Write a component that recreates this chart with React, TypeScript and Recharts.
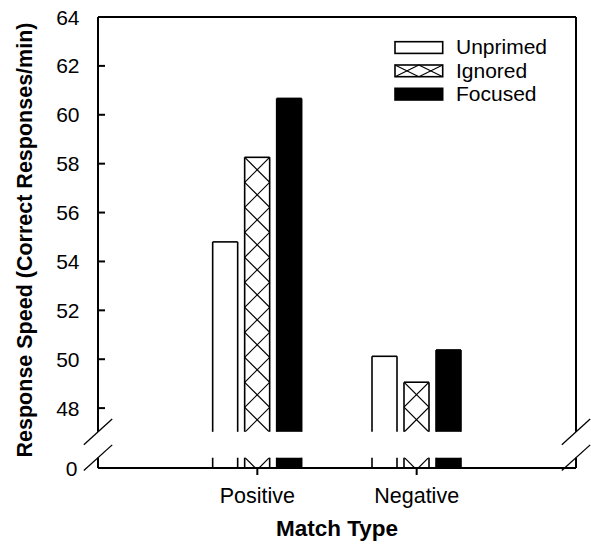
import { Bar, BarChart, Label, Legend, ReferenceLine, XAxis, YAxis } from "recharts";

const categories = ["Positive", "Negative"];
const categoryPositions = [1, 2];
const unprimed = [54.8, 50.12];
const ignored = [58.26, 49.06];
const focused = [60.67, 50.38];
const seriesKeys = ["unprimed", "ignored", "focused"];
const seriesNames = ["Unprimed", "Ignored", "Focused"];
const yTickValues = [48, 50, 52, 54, 56, 58, 60, 62, 64];

// broken axis: the floor of the plot stands for 0, the gap sits between BREAK_LO and BREAK_HI
const Y_FLOOR = 45.55;
const BREAK_LO = 45.97;
const BREAK_HI = 47.03;
const Y_TOP = 64;
const X_MAX = 3;

const FONT = '"Liberation Sans", Arial, Helvetica, sans-serif';
const INK = "#000";

const data = categories.map((name, i) => ({
  pos: categoryPositions[i],
  name,
  unprimed: unprimed[i],
  ignored: ignored[i],
  focused: focused[i],
}));

type Kind = "open" | "hatch" | "solid";
const kinds: Kind[] = ["open", "hatch", "solid"];

function hatchLines(x: number, top: number, w: number, h: number, cell: number) {
  const out = [];
  for (let k = 0; top + k * cell < top + h; k++) {
    const y0 = top + k * cell;
    out.push(<line key={`a${k}`} x1={x} y1={y0} x2={x + w} y2={y0 + cell} />);
    out.push(<line key={`b${k}`} x1={x + w} y1={y0} x2={x} y2={y0 + cell} />);
  }
  return out;
}

function brokenBar(key: string, kind: Kind) {
  return (props: any) => {
    const { x, y, width, height, payload } = props;
    const value = payload[key];
    const bottom = y + height;
    const ppu = height / (value - Y_FLOOR);
    const gapTop = bottom - (BREAK_HI - Y_FLOOR) * ppu;
    const gapBottom = bottom - (BREAK_LO - Y_FLOOR) * ppu;
    const pieces = [
      [y, gapTop],
      [gapBottom, bottom],
    ];
    return (
      <g>
        {pieces.map(([t, b], pi) => {
          const id = `clip-${key}-${Math.round(x)}-${pi}`;
          return (
            <g key={pi}>
              <rect x={x} y={t} width={width} height={b - t} fill={kind === "solid" ? INK : "#fff"} />
              {kind === "hatch" && (
                <>
                  <clipPath id={id}>
                    <rect x={x} y={t} width={width} height={b - t} />
                  </clipPath>
                  <g clipPath={`url(#${id})`} stroke={INK} strokeWidth={1.2}>
                    {hatchLines(x, y, width, bottom - y, width)}
                  </g>
                </>
              )}
              <line x1={x} x2={x} y1={t} y2={b} stroke={INK} strokeWidth={1.6} />
              <line x1={x + width} x2={x + width} y1={t} y2={b} stroke={INK} strokeWidth={1.6} />
              {pi === 0 && <line x1={x} x2={x + width} y1={t} y2={t} stroke={INK} strokeWidth={1.6} />}
            </g>
          );
        })}
      </g>
    );
  };
}

function YTick(props: any) {
  const { x, y, payload } = props;
  const isFloor = payload.value === Y_FLOOR;
  return (
    <g>
      {!isFloor && <line x1={x} x2={x + 7} y1={y} y2={y} stroke={INK} strokeWidth={2} />}
      <text x={x - (isFloor ? 20.5 : 18.5)} y={y + 7.5} textAnchor="end" fontSize={21} fontFamily={FONT} fill={INK}>
        {isFloor ? "0" : payload.value}
      </text>
    </g>
  );
}

function XTick(props: any) {
  const { x, y, payload } = props;
  const name = categories[categoryPositions.indexOf(payload.value)];
  return (
    <g>
      <line x1={x} x2={x} y1={y} y2={y + 7} stroke={INK} strokeWidth={2} />
      <text x={x} y={y + 34.7} textAnchor="middle" fontSize={21.5} fontFamily={FONT} fill={INK}>
        {name}
      </text>
    </g>
  );
}

function YTitle(props: any) {
  const vb = props.viewBox;
  const cx = 24.5;
  const cy = vb.y + vb.height / 2 - 2.5;
  return (
    <text
      x={cx}
      y={cy}
      dy={7.7}
      transform={`rotate(-90, ${cx}, ${cy})`}
      textAnchor="middle"
      fontSize={21.5}
      fontWeight={700}
      fontFamily={FONT}
      fill={INK}
    >
      Response Speed (Correct Responses/min)
    </text>
  );
}

function XTitle(props: any) {
  const vb = props.viewBox;
  return (
    <text
      x={vb.x + vb.width / 2}
      y={vb.y + 67.7}
      textAnchor="middle"
      fontSize={22.5}
      fontWeight={700}
      fontFamily={FONT}
      fill={INK}
    >
      Match Type
    </text>
  );
}

function LegendBox() {
  const rowH = 23.3;
  return (
    <svg width={175} height={72}>
      {seriesNames.map((name, i) => {
        const top = 5.7 + i * rowH;
        const kind = kinds[i];
        return (
          <g key={name}>
            <rect x={2} y={top} width={47.7} height={11.7} fill={kind === "solid" ? INK : "#fff"} />
            {kind === "hatch" && (
              <g stroke={INK} strokeWidth={1.1}>
                {[0, 1].map((c) => (
                  <g key={c}>
                    <line x1={2 + c * 23.85} y1={top} x2={2 + (c + 1) * 23.85} y2={top + 11.7} />
                    <line x1={2 + (c + 1) * 23.85} y1={top} x2={2 + c * 23.85} y2={top + 11.7} />
                  </g>
                ))}
              </g>
            )}
            <rect x={2} y={top} width={47.7} height={11.7} fill="none" stroke={INK} strokeWidth={1.6} />
            <text x={63} y={top + 5.85 + 6.8} fontSize={21} fontFamily={FONT} fill={INK}>
              {name}
            </text>
          </g>
        );
      })}
    </svg>
  );
}

const SL_X = 0.089; // half width of a break slash, in x units
const SL_Y = 0.526; // half height of a break slash, in y units

export default function App() {
  const frame = [
    [{ x: 0, y: Y_TOP }, { x: X_MAX, y: Y_TOP }],
    [{ x: 0, y: Y_FLOOR }, { x: X_MAX, y: Y_FLOOR }],
    [{ x: 0, y: Y_TOP }, { x: 0, y: BREAK_HI }],
    [{ x: 0, y: BREAK_LO }, { x: 0, y: Y_FLOOR }],
    [{ x: X_MAX, y: Y_TOP }, { x: X_MAX, y: BREAK_HI }],
    [{ x: X_MAX, y: BREAK_LO }, { x: X_MAX, y: Y_FLOOR }],
  ];
  const slashes = [0, X_MAX].flatMap((bx) =>
    [BREAK_HI, BREAK_LO].map((by) => [
      { x: bx - SL_X, y: by - SL_Y },
      { x: bx + SL_X, y: by + SL_Y },
    ])
  );

  return (
    <div style={{ position: "absolute", left: 0, top: 0, width: 591, height: 544, background: "#fff" }}>
      <BarChart
        width={591}
        height={544}
        data={data}
        margin={{ top: 17, right: 15, bottom: 0, left: 0 }}
        barSize={25}
        barGap={7}
      >
        <XAxis
          type="number"
          dataKey="pos"
          domain={[0, X_MAX]}
          ticks={categoryPositions}
          interval={0}
          height={76}
          axisLine={false}
          tickLine={false}
          tickSize={0}
          tickMargin={0}
          tick={<XTick />}
        >
          <Label content={<XTitle />} />
        </XAxis>
        <YAxis
          type="number"
          domain={[Y_FLOOR, Y_TOP]}
          ticks={[Y_FLOOR, ...yTickValues]}
          interval={0}
          width={98}
          axisLine={false}
          tickLine={false}
          tickSize={0}
          tickMargin={0}
          tick={<YTick />}
        >
          <Label content={<YTitle />} />
        </YAxis>
        {seriesKeys.map((key, i) => (
          <Bar
            key={key}
            dataKey={key}
            name={seriesNames[i]}
            isAnimationActive={false}
            shape={brokenBar(key, kinds[i])}
          />
        ))}
        {frame.map((seg, i) => (
          <ReferenceLine key={`f${i}`} segment={seg} stroke={INK} strokeWidth={2} ifOverflow="visible" />
        ))}
        {slashes.map((seg, i) => (
          <ReferenceLine key={`s${i}`} segment={seg} stroke={INK} strokeWidth={1.3} ifOverflow="visible" />
        ))}
        <Legend
          layout="vertical"
          align="center"
          verticalAlign="middle"
          content={<LegendBox />}
          wrapperStyle={{ left: 393, top: 36, width: 175, height: 72 }}
        />
      </BarChart>
    </div>
  );
}
